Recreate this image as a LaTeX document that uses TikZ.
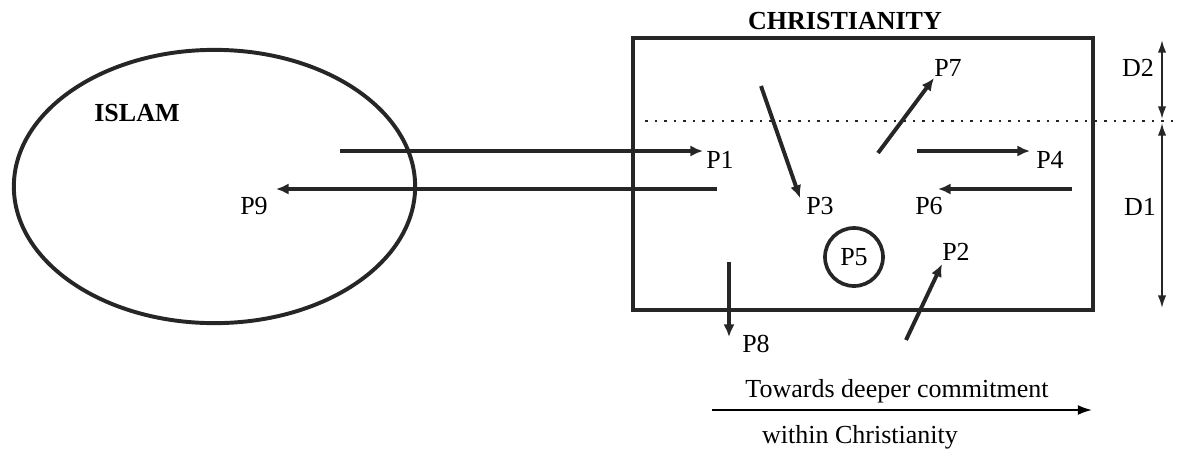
\documentclass[tikz,border=0pt]{standalone}
\usepackage{fontspec}
\setmainfont{Liberation Serif}
\usetikzlibrary{positioning, arrows.meta, shapes.geometric}

\begin{document}
\begin{tikzpicture}[x=0.025cm, y=-0.025cm, >={Latex[length=9pt,width=8pt]},
    font=\fontsize{18.5}{22}\selectfont,
    move/.style={->, line width=2.8pt, draw=black!85},
    dim/.style={<->, line width=1.3pt, draw=black!85, >={Latex[length=9pt,width=6pt]}}]
    \useasboundingbox (0,0) rectangle (1177,450);

    % the two faiths
    \node [draw=black!85, ellipse, line width=2.8pt, inner sep=0pt, minimum width=10.03cm, minimum height=6.83cm] (islam) at (214.5,186.5) {};
    \node [draw=black!85, rectangle, line width=3.2pt, inner sep=0pt, minimum width=11.5cm, minimum height=6.8cm] (chr) at (863,174) {};
    \node [font=\fontsize{18.5}{22}\selectfont\bfseries] (islamlbl) at (137,113) {ISLAM};
    \node [font=\fontsize{18.5}{22}\selectfont\bfseries] (chrlbl) at (845,21) {CHRISTIANITY};

    % level between D1 and D2
    \coordinate (dl) at (645,121);
    \coordinate (dr) at (1177,121);
    \draw [line width=1.8pt, dash pattern=on 1.8pt off 5pt, draw=black!85] (dl) -- (dr);

    \coordinate (dtop) at (1162,40);
    \coordinate (dmida) at (1162,119);
    \coordinate (dmidb) at (1162,123);
    \coordinate (dbot) at (1162,308);
    \draw [dim] (dtop) -- (dmida);
    \draw [dim] (dmidb) -- (dbot);
    \node (d2) at (1138,68) {D2};
    \node (d1) at (1140,207) {D1};

    % positions
    \coordinate (s1) at (340,151);
    \coordinate (e1) at (703,151);
    \node (p1) at (720,160) {P1};
    \draw [move] (s1) -- (e1);

    \coordinate (s9) at (717,189);
    \coordinate (e9) at (276,189);
    \node (p9) at (254,206) {P9};
    \draw [move] (s9) -- (e9);

    \coordinate (s3) at (761,86);
    \coordinate (e3) at (800,198);
    \node (p3) at (820,206) {P3};
    \draw [move] (s3) -- (e3);

    \coordinate (s7) at (878,153);
    \coordinate (e7) at (934,78);
    \node (p7) at (948,68) {P7};
    \draw [move] (s7) -- (e7);

    \coordinate (s4) at (917,151);
    \coordinate (e4) at (1030,151);
    \node (p4) at (1050,160) {P4};
    \draw [move] (s4) -- (e4);

    \coordinate (s6) at (1072,189);
    \coordinate (e6) at (938,189);
    \node (p6) at (929,206) {P6};
    \draw [move] (s6) -- (e6);

    \node [draw=black!85, circle, line width=2.6pt, inner sep=0pt, minimum size=1.45cm] (p5) at (854,257) {P5};

    \coordinate (s2) at (906,340);
    \coordinate (e2) at (942,264);
    \node (p2) at (956,252) {P2};
    \draw [move] (s2) -- (e2);

    \coordinate (s8) at (729,262);
    \coordinate (e8) at (729,337);
    \node (p8) at (756,344) {P8};
    \draw [move] (s8) -- (e8);

    % direction of commitment
    \coordinate (cs) at (712,410);
    \coordinate (ce) at (1092,410);
    \draw [->, line width=1.3pt, >={Latex[length=10pt,width=7pt]}] (cs) -- (ce);
    \node (toward) at (897,391) {Towards deeper commitment};
    \node (within) at (860,437) {within Christianity};
\end{tikzpicture}
\end{document}
